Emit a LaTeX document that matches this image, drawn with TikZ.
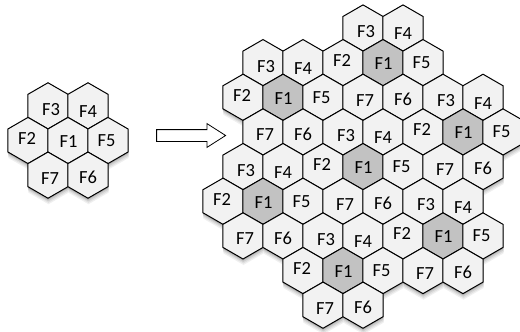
\documentclass[tikz,border=0pt]{standalone}
\usepackage{fontspec}
\setmainfont{Carlito}
\usetikzlibrary{shapes.geometric, shapes.arrows, shadows}

\begin{document}
\begin{tikzpicture}[
    x=1pt, y=-1pt,
    every node/.style={font=\fontsize{18.5}{19}\selectfont},
    hex/.style={draw, line width=1pt, regular polygon, regular polygon sides=6,
                shape border rotate=30, minimum size=46.2pt, inner sep=0pt, outer sep=0pt,
                fill=gray!10,
                drop shadow={shadow xshift=0.5pt, shadow yshift=-6pt, fill=black!6, opacity=1},
                drop shadow={shadow xshift=0.5pt, shadow yshift=-4.5pt, fill=black!12, opacity=1},
                drop shadow={shadow xshift=0.3pt, shadow yshift=-3pt, fill=black!20, opacity=1},
                drop shadow={shadow xshift=0pt, shadow yshift=-1.5pt, fill=black!30, opacity=1}},
    lbl/.style={inner sep=0pt},
    lab1/.style={xshift=0.5pt, yshift=-1pt},
    lab2/.style={xshift=-1pt, yshift=2pt},
    lab3/.style={xshift=3pt, yshift=-3.5pt},
    lab4/.style={yshift=-6pt},
    lab5/.style={xshift=-1.5pt},
    lab6/.style={yshift=-2pt},
    lab7/.style={xshift=2pt, yshift=-3pt},
    bigarrow/.style={draw, line width=0.8pt, fill=white, single arrow,
                     single arrow head extend=6pt, single arrow head indent=0pt,
                     single arrow tip angle=65, minimum height=69pt,
                     inner xsep=0pt, inner ysep=5.5pt}
]
\useasboundingbox (0,0) rectangle (520,332);

% one cluster
\foreach \f/\x/\y in {3/48/105.85, 4/88/105.85, 2/28/140.5, 1/68/140.5,
                      5/108/140.5, 7/48/175.15, 6/88/175.15} {
  \node[hex] (s\f) at (\x,\y) {};
  \node[lbl, lab\f] (ts\f) at (s\f) {F\f};
}

\node[bigarrow] (arr) at (186.5,135.5) {};

% reuse pattern, row by row (column/label)
\foreach \r/\row in {
    0/{7/3,9/4},
    1/{2/3,4/4,6/2,8/1,10/5},
    2/{1/2,3/1,5/5,7/7,9/6,11/3,13/4},
    3/{2/7,4/6,6/3,8/4,10/2,12/1,14/5},
    4/{1/3,3/4,5/2,7/1,9/5,11/7,13/6},
    5/{0/2,2/1,4/5,6/7,8/6,10/3,12/4},
    6/{1/7,3/6,5/3,7/4,9/2,11/1,13/5},
    7/{4/2,6/1,8/5,10/7,12/6},
    8/{5/7,7/6}} {
  \foreach \u/\f in \row {
    \ifnum\f=1 \def\hc{gray!48}\else\def\hc{gray!10}\fi
    \node[hex, fill=\hc] (b\r-\u) at ({223+20*\u},{28+34.65*\r}) {};
    \node[lbl, lab\f] (t\r-\u) at (b\r-\u) {F\f};
  }
}
\end{tikzpicture}
\end{document}
